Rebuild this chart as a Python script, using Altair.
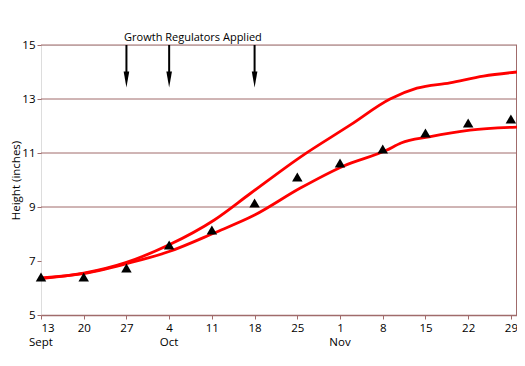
import altair as alt
import pandas as pd

# Data (days after 13 Sept)
obs_days = [0, 7, 14, 21, 28, 35, 42, 49, 56, 63, 70, 77]
obs_height = [6.41, 6.41, 6.74, 7.59, 8.15, 9.15, 10.11, 10.63, 11.15, 11.74, 12.11, 12.26]

upper_days = [0, 7, 14, 21, 28.4, 34.3, 42.5, 50.7, 57.2, 61.6, 67.0, 72.5, 78]
upper_height = [6.35, 6.55, 6.95, 7.6, 8.52, 9.5, 10.85, 12.04, 13.0, 13.4, 13.6, 13.85, 14.0]

lower_days = [0, 6.6, 14, 21, 28.4, 35, 42.5, 49.6, 56.6, 59, 63.6, 70.3, 78]
lower_height = [6.37, 6.52, 6.9, 7.35, 8.04, 8.7, 9.7, 10.52, 11.1, 11.37, 11.6, 11.85, 11.96]

arrow_days = [14, 21, 35]
tick_days = [0, 7, 14, 21, 28, 35, 42, 49, 56, 63, 70, 77]
tick_labels = ["13", "20", "27", "4", "11", "18", "25", "1", "8", "15", "22", "29"]
month_days = [0, 21, 49]
month_labels = ["Sept", "Oct", "Nov"]
grid_values = [9, 11, 13, 15]
y_ticks = [5, 7, 9, 11, 13, 15]
title_text = "Growth Regulators Applied"
title_day = 24.9

W, H = 476, 270
FONT = "Open Sans"
BROWN = "#a06b6b"

obs = pd.DataFrame({"day": obs_days, "h": obs_height})
curves = pd.DataFrame({
    "day": upper_days + lower_days,
    "h": upper_height + lower_height,
    "series": ["upper"] * len(upper_days) + ["lower"] * len(lower_days),
})
arrows = pd.DataFrame({"day": arrow_days, "top": [15] * 3, "bot": [13.8] * 3, "head": [13.72] * 3})
months = pd.DataFrame({"day": month_days, "label": month_labels})
grid = pd.DataFrame({"v": grid_values})
ttl = pd.DataFrame({"day": [title_day], "label": [title_text]})

label_map = "{" + ",".join(f"'{d}':'{l}'" for d, l in zip(tick_days, tick_labels)) + "}"

xscale = alt.Scale(domain=[0, 78], nice=False, zero=False)
yscale = alt.Scale(domain=[5, 15], nice=False, zero=False)

xaxis = alt.Axis(
    values=tick_days, labelExpr=f"{label_map}[datum.value]", title=None, grid=False,
    domainColor=BROWN, domainWidth=1.5, tickColor=BROWN, tickSize=4,
    labelFont=FONT, labelFontSize=11.5, labelColor="black", labelPadding=3,
)
yaxis = alt.Axis(
    values=y_ticks, title="Height (inches)", grid=False, domain=False,
    tickColor=BROWN, tickSize=4, labelFont=FONT, labelFontSize=11.5, labelColor="black",
    titleFont=FONT, titleFontSize=11.5, titleFontWeight="normal", titleColor="black",
    titleX=-25, titleY=H / 2, titleAngle=270, titleAlign="center", titleBaseline="middle",
    labelPadding=2,
)

base_x = alt.X("day:Q", scale=xscale, axis=xaxis)

gridlines = alt.Chart(grid).mark_rule(color=BROWN, strokeWidth=1).encode(
    y=alt.Y("v:Q", scale=yscale, axis=yaxis)
)

right_edge = alt.Chart(pd.DataFrame({"d": [78]})).mark_rule(color=BROWN, strokeWidth=2).encode(
    x=alt.X("d:Q", scale=xscale, axis=xaxis)
)

lines = alt.Chart(curves).mark_line(color="#ff0000", strokeWidth=2.8, interpolate="monotone").encode(
    x=base_x,
    y=alt.Y("h:Q", scale=yscale, axis=yaxis),
    detail="series:N",
)

points = alt.Chart(obs).mark_point(shape="triangle-up", filled=True, color="black", size=110, opacity=1).encode(
    x=base_x, y=alt.Y("h:Q", scale=yscale, axis=yaxis)
)

shafts = alt.Chart(arrows).mark_rule(color="black", strokeWidth=2).encode(
    x=base_x, y=alt.Y("top:Q", scale=yscale, axis=yaxis), y2="bot:Q"
)
heads = alt.Chart(arrows).mark_point(
    shape="M -0.35 -1 L 0.35 -1 L 0 1 Z", filled=True, color="black", size=256, opacity=1
).encode(x=base_x, y=alt.Y("head:Q", scale=yscale, axis=yaxis))

month_text = alt.Chart(months).mark_text(
    font=FONT, fontSize=11.5, color="black", baseline="middle", align="center"
).encode(x=base_x, y=alt.value(H + 28), text="label:N")

title_mark = alt.Chart(ttl).mark_text(
    font=FONT, fontSize=11, color="black", baseline="bottom", align="center"
).encode(x=base_x, y=alt.value(-2), text="label:N")

chart = alt.layer(
    gridlines, right_edge, lines, points, shafts, heads, month_text, title_mark
).properties(
    width=W, height=H,
    autosize=alt.AutoSizeParams(type="none"),
    padding={"left": 33, "top": 37, "right": 0, "bottom": 40},
).configure_view(fill="#cccccc", stroke=None).configure(background="white")

chart.save("out.html", embed_options={"renderer": "svg", "actions": False})
